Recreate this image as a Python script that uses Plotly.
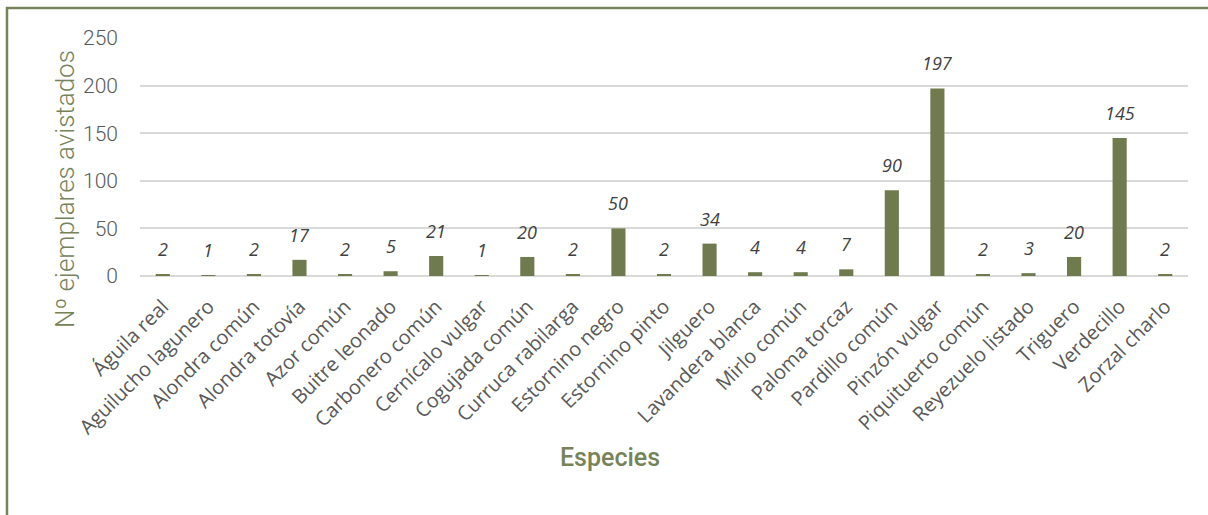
import plotly.graph_objects as go

especies = ["Águila real", "Aguilucho lagunero", "Alondra común", "Alondra totovía",
            "Azor común", "Buitre leonado", "Carbonero común", "Cernícalo vulgar",
            "Cogujada común", "Curruca rabilarga", "Estornino negro", "Estornino pinto",
            "Jilguero", "Lavandera blanca", "Mirlo común", "Paloma torcaz",
            "Pardillo común", "Pinzón vulgar", "Piquituerto común", "Reyezuelo listado",
            "Triguero", "Verdecillo", "Zorzal charlo"]
ejemplares = [2, 1, 2, 17, 2, 5, 21, 1, 20, 2, 50, 2, 34, 4, 4, 7, 90, 197, 2, 3, 20, 145, 2]
y_ticks = [0, 50, 100, 150, 200, 250]

W, H = 1208, 515
L, R, T, B = 140, 20, 38, 239
pw, ph = W - L - R, H - T - B

def px(x):
    return (x - L) / pw

def py(y):
    return (H - B - y) / ph

olive = "#76835a"
bar_col = "#6f7b4f"

fig = go.Figure()
fig.add_trace(go.Bar(x=especies, y=ejemplares, marker_color=bar_col,
                     marker_line_width=0, hoverinfo="x+y"))

annotations = []
for e, v in zip(especies, ejemplares):
    annotations.append(dict(x=e, y=v, xref="x", yref="y", text=str(v), showarrow=False,
                            yanchor="bottom", yshift=11,
                            font=dict(family="Open Sans", size=18, color="#404040",
                                      style="italic")))
annotations.append(dict(x=px(610), y=py(457), xref="paper", yref="paper", text="Especies",
                        showarrow=False, xanchor="center", yanchor="middle",
                        font=dict(family="Roboto", size=25, color=olive, weight=500)))
annotations.append(dict(x=px(65), y=py(189), xref="paper", yref="paper",
                        text="Nº ejemplares avistados", textangle=-90, showarrow=False,
                        xanchor="center", yanchor="middle",
                        font=dict(family="Roboto", size=26, color=olive, weight=300)))

fig.update_layout(
    width=W, height=H,
    margin=dict(l=L, r=R, t=T, b=B),
    paper_bgcolor="white", plot_bgcolor="white",
    bargap=0.69,
    showlegend=False,
    annotations=annotations,
    shapes=[
        dict(type="line", xref="paper", yref="paper", x0=px(6), x1=px(1215),
             y0=py(8), y1=py(8), line=dict(color=olive, width=2.5)),
        dict(type="line", xref="paper", yref="paper", x0=px(7), x1=px(7),
             y0=py(7), y1=py(520), line=dict(color=olive, width=2.5)),
    ],
    xaxis=dict(tickangle=-45, tickfont=dict(family="Open Sans", size=20, color="#595959"),
               showgrid=False, showline=False, ticks="",
               ticklabelstandoff=14, ticklabelshift=0),
    yaxis=dict(range=[0, 250], tickvals=y_ticks, showgrid=True, gridcolor="#d9d9d9",
               gridwidth=1.5, zeroline=True, zerolinecolor="#d9d9d9", zerolinewidth=1.5,
               tickfont=dict(family="Roboto", size=21, color="#595959", weight=300),
               ticks="", ticklabelstandoff=21),
)
fig.write_html("out.html", config={"displayModeBar": False},
               post_script="document.body.style.margin='0px';")
